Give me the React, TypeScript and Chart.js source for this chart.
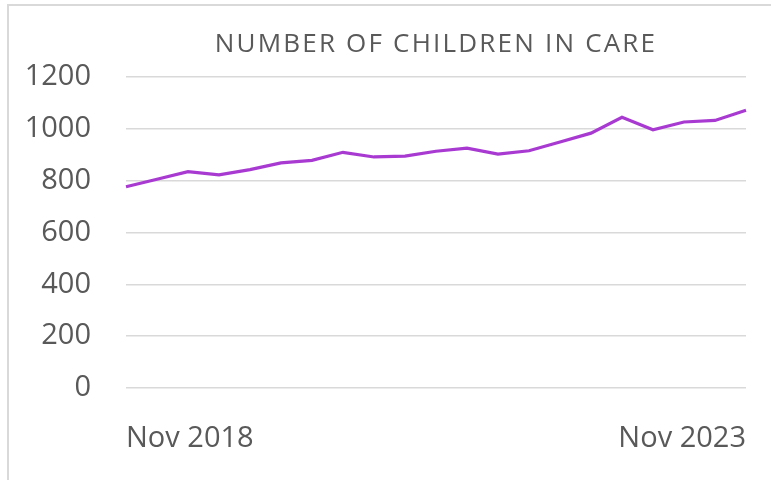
import { useEffect, useRef } from 'react';
import { Chart, registerables } from 'chart.js';

Chart.register(...registerables);

const TITLE = 'NUMBER OF CHILDREN IN CARE';

const quarters = [
  'Nov 2018', 'Feb 2019', 'May 2019', 'Aug 2019',
  'Nov 2019', 'Feb 2020', 'May 2020', 'Aug 2020',
  'Nov 2020', 'Feb 2021', 'May 2021', 'Aug 2021',
  'Nov 2021', 'Feb 2022', 'May 2022', 'Aug 2022',
  'Nov 2022', 'Feb 2023', 'May 2023', 'Aug 2023',
  'Nov 2023',
];

const childrenInCare = [
  777, 806, 835, 823, 843, 869, 879, 910, 892, 895, 914,
  926, 903, 916, 950, 984, 1045, 997, 1027, 1033, 1072,
];

const shownXLabels = ['Nov 2018', 'Nov 2023'];

const Y_MIN = 0;
const Y_MAX = 1200;
const Y_STEP = 200;

const TEXT = '#595959';
const GRID = '#d9d9d9';
const LINE = '#a83ad2';
const FONT = "'Open Sans', 'DejaVu Sans', sans-serif";

const titleSpacing = {
  id: 'titleSpacing',
  beforeDraw(chart: any) {
    chart.ctx.letterSpacing = '2.2px';
  },
  beforeDatasetsDraw(chart: any) {
    chart.ctx.letterSpacing = '0px';
  },
};

export default function App() {
  const ref = useRef<HTMLCanvasElement | null>(null);

  useEffect(() => {
    if (!ref.current) return;
    const chart = new Chart(ref.current, {
      type: 'line',
      data: {
        labels: quarters,
        datasets: [
          {
            label: 'Children in care',
            data: childrenInCare,
            borderColor: LINE,
            backgroundColor: LINE,
            borderWidth: 3.2,
            pointRadius: 0,
            tension: 0,
            fill: false,
          },
        ],
      },
      options: {
        animation: false,
        responsive: false,
        devicePixelRatio: 1,
        layout: { padding: { left: 0, right: 25, top: 0, bottom: 24 } },
        plugins: {
          legend: { display: false },
          tooltip: { enabled: false },
          title: {
            display: true,
            text: TITLE,
            fullSize: false,
            color: TEXT,
            font: { family: FONT, size: 26, weight: 'normal' },
            padding: { top: 29, bottom: 17 },
          },
        },
        scales: {
          x: {
            type: 'category',
            offset: false,
            grid: { display: false, drawTicks: true, tickLength: 33, tickColor: 'transparent' },
            border: { display: false },
            ticks: {
              z: 1,
              autoSkip: false,
              maxRotation: 0,
              minRotation: 0,
              align: 'inner',
              padding: 0,
              color: TEXT,
              font: { family: FONT, size: 29 },
              callback: (_v: any, i: number) =>
                shownXLabels.includes(quarters[i]) ? quarters[i] : '',
            },
            afterFit: (s: any) => {
              s.height = 68;
            },
          },
          y: {
            min: Y_MIN,
            max: Y_MAX,
            grid: {
              color: GRID,
              lineWidth: 1.5,
              drawTicks: true,
              tickLength: 35,
              tickColor: 'transparent',
            },
            border: { display: false },
            ticks: {
              z: 1,
              stepSize: Y_STEP,
              padding: 0,
              color: TEXT,
              font: { family: FONT, size: 29 },
              callback: (v: any) => String(v),
            },
            afterFit: (s: any) => {
              s.width = 126;
            },
          },
        },
      },
      plugins: [titleSpacing],
    });
    return () => chart.destroy();
  }, []);

  return (
    <div
      style={{
        position: 'absolute',
        left: 0,
        top: 0,
        width: 771,
        height: 480,
        overflow: 'hidden',
        background: '#ffffff',
      }}
    >
      <canvas ref={ref} width={771} height={480} style={{ display: 'block' }} />
      <div
        style={{
          position: 'absolute',
          left: 7,
          top: 4,
          width: 800,
          height: 500,
          border: `2px solid ${GRID}`,
          pointerEvents: 'none',
        }}
      />
    </div>
  );
}
